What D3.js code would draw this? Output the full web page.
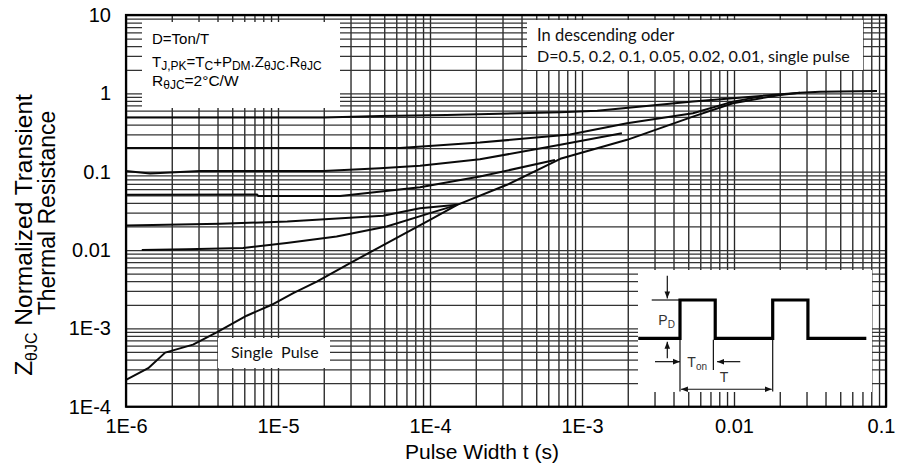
<!DOCTYPE html>
<html>
<head>
<meta charset="utf-8">
<script src="https://cdn.jsdelivr.net/npm/d3@7/dist/d3.min.js"></script>
<style>
  html, body { margin: 0; padding: 0; background: #fff; }
  svg { display: block; }
</style>
</head>
<body>
<svg id="chart" width="899" height="475"></svg>
<script>
// ---------------- DATA ----------------
const xTickValues = [1e-6, 1e-5, 1e-4, 1e-3, 1e-2, 1e-1];
const xTickLabels = ["1E-6", "1E-5", "1E-4", "1E-3", "0.01", "0.1"];
const yTickValues = [1e-4, 1e-3, 1e-2, 1e-1, 1, 10];
const yTickLabels = ["1E-4", "1E-3", "0.01", "0.1", "1", "10"];

// D = 0.5
const tD05 = [1e-6, 2e-5, 4.7e-5, 1.29e-4, 7.2e-4, 1.26e-3, 5.37e-3, 9.84e-3, 2.72e-2, 3.68e-2, 8.73e-2];
const zD05 = [0.49, 0.49, 0.515, 0.53, 0.574, 0.60, 0.784, 0.866, 1.02, 1.05, 1.07];
// D = 0.2
const tD02 = [1e-6, 6.35e-5, 2.13e-4, 8.34e-4, 1.98e-3, 5.37e-3, 9.84e-3, 1.48e-2];
const zD02 = [0.2, 0.2, 0.235, 0.299, 0.416, 0.557, 0.784, 0.908];
// D = 0.1
const tD01 = [1e-6, 1.44e-6, 3.07e-6, 2e-5, 4.69e-5, 8.6e-5, 2.13e-4, 7.2e-4, 1.83e-3];
const zD01 = [0.102, 0.095, 0.102, 0.102, 0.111, 0.119, 0.144, 0.22, 0.31];
// D = 0.05
const tD005 = [1e-6, 7.27e-6, 7.4e-6, 2.56e-5, 8.6e-5, 2.13e-4, 6.64e-4];
const zD005 = [0.0506, 0.0513, 0.049, 0.049, 0.0634, 0.0866, 0.141];
// D = 0.02
const tD002 = [1e-6, 4.15e-6, 1.15e-5, 4.91e-5, 8.6e-5, 1.51e-4];
const zD002 = [0.0205, 0.0216, 0.0231, 0.0273, 0.0342, 0.0377];
// D = 0.01
const tD001 = [1.27e-6, 2.51e-6, 5.89e-6, 1.14e-5, 2.43e-5, 5.19e-5, 1e-4, 1.51e-4];
const zD001 = [0.01, 0.0102, 0.0106, 0.0123, 0.0149, 0.020, 0.0296, 0.0377];
// Single pulse
const tSingle = [1e-6, 1.4e-6, 1.81e-6, 2.76e-6, 3.95e-6, 6.22e-6, 9.09e-6, 1.26e-5, 1.8e-5, 2.98e-5,
                 5.71e-5, 1e-4, 1.51e-4, 3.21e-4, 7.2e-4, 1.98e-3, 5.37e-3, 9.84e-3, 2.01e-2, 2.72e-2];
const zSingle = [2.2e-4, 3.1e-4, 4.9e-4, 6.2e-4, 8.9e-4, 1.45e-3, 2.0e-3, 2.82e-3, 3.96e-3, 6.8e-3,
                 1.35e-2, 2.43e-2, 3.77e-2, 6.8e-2, 0.146, 0.255, 0.505, 0.748, 0.955, 1.02];

const seriesT = [tD05, tD02, tD01, tD005, tD002, tD001, tSingle];
const seriesZ = [zD05, zD02, zD01, zD005, zD002, zD001, zSingle];

// Inset pulse diagram, in units of the period T (x) and pulse height PD (y)
const pulseX = [-0.45, 0, 0, 0.38, 0.38, 1, 1, 1.38, 1.38, 2.01];
const pulseY = [0, 0, 1, 1, 0, 0, 1, 1, 0, 0];

(function () {
// ---------------- CHART ----------------
const svg = d3.select("#chart");
const pL = 126, pR = 886, pT = 15, pB = 406.7;

const x = d3.scaleLog().domain([1e-6, 0.1]).range([pL, pR]);
const y = d3.scaleLog().domain([1e-4, 10]).range([pB, pT]);

// minor/major log grid values
const xGrid = [];
for (let e = -6; e <= -2; e++) for (let k = 1; k <= 9; k++) xGrid.push(k * Math.pow(10, e));
xGrid.push(0.1);
const yGrid = [];
for (let e = -4; e <= 0; e++) for (let k = 1; k <= 9; k++) yGrid.push(k * Math.pow(10, e));
yGrid.push(10);

const gx = svg.append("g")
  .attr("transform", `translate(0,${pB})`)
  .call(d3.axisBottom(x).tickValues(xGrid).tickSize(-(pB - pT)).tickFormat(""));
gx.select(".domain").remove();
gx.selectAll("line").attr("stroke", "#262626").attr("stroke-width", 1.35);

const gy = svg.append("g")
  .attr("transform", `translate(${pL},0)`)
  .call(d3.axisLeft(y).tickValues(yGrid).tickSize(-(pR - pL)).tickFormat(""));
gy.select(".domain").remove();
gy.selectAll("line").attr("stroke", "#333").attr("stroke-width", 1.25);

// white annotation boxes covering the grid
const boxes = [
  [142, 22, 198, 86],
  [527, 20, 336, 50],
  [218, 338, 112, 30],
  [638, 270, 234, 122]
];
svg.append("g").selectAll("rect").data(boxes).join("rect")
  .attr("x", d => d[0]).attr("y", d => d[1]).attr("width", d => d[2]).attr("height", d => d[3])
  .attr("fill", "#fff");

// curves
const line = d3.line().x(d => x(d[0])).y(d => y(d[1]));
svg.append("g").selectAll("path").data(seriesT.map((t, i) => d3.zip(t, seriesZ[i]))).join("path")
  .attr("d", line)
  .attr("fill", "none")
  .attr("stroke", "#0a0a0a")
  .attr("stroke-width", 2)
  .attr("stroke-linejoin", "round");

// frame
svg.append("rect")
  .attr("x", pL).attr("y", pT).attr("width", pR - pL).attr("height", pB - pT)
  .attr("fill", "none").attr("stroke", "#000").attr("stroke-width", 2.2);

// tick labels
const axFont = "'Liberation Sans', Arial, sans-serif";
const xl = svg.append("g")
  .attr("transform", `translate(0,${pB})`)
  .call(d3.axisBottom(x).tickValues(xTickValues).tickSize(0).tickPadding(12)
    .tickFormat((d, i) => xTickLabels[i]));
xl.select(".domain").remove();
xl.selectAll("text").attr("font-family", axFont).attr("font-size", 20).attr("fill", "#000")
  .attr("dx", (d, i) => i === xTickValues.length - 1 ? -5 : 0);

const yl = svg.append("g")
  .attr("transform", `translate(${pL},0)`)
  .call(d3.axisLeft(y).tickValues(yTickValues).tickSize(0).tickPadding(15)
    .tickFormat((d, i) => yTickLabels[i]));
yl.select(".domain").remove();
yl.selectAll("text").attr("font-family", axFont).attr("font-size", 20).attr("fill", "#000");

// axis titles
svg.append("text")
  .attr("x", 482).attr("y", 459)
  .attr("text-anchor", "middle")
  .attr("font-family", axFont).attr("font-size", 21).attr("fill", "#000")
  .text("Pulse Width t (s)");

// text with subscripts: parts = [[string, isSub], ...]
function richText(sel, parts, subSize, shift) {
  let inSub = false;
  parts.forEach(p => {
    const ts = sel.append("tspan").text(p[0]);
    if (p[1]) {
      ts.attr("font-size", subSize).attr("dy", inSub ? 0 : shift);
      inSub = true;
    } else {
      ts.attr("dy", inSub ? -shift : 0);
      inSub = false;
    }
  });
}

const yt1 = svg.append("text")
  .attr("transform", "translate(32,235) rotate(-90)")
  .attr("text-anchor", "middle")
  .attr("font-family", axFont).attr("font-size", 24.5).attr("fill", "#000");
richText(yt1, [["Z", false], ["θJC", true], [" Normalized Transient", false]], 16, 5);

svg.append("text")
  .attr("transform", "translate(55,213) rotate(-90)")
  .attr("text-anchor", "middle")
  .attr("font-family", axFont).attr("font-size", 23).attr("fill", "#000")
  .text("Thermal Resistance");

// top-left annotation
const tl = svg.append("g").attr("font-family", axFont).attr("fill", "#000");
tl.append("text").attr("x", 152).attr("y", 44).attr("font-size", 15).text("D=Ton/T");
const tl2 = tl.append("text").attr("x", 152).attr("y", 67).attr("font-size", 15);
richText(tl2, [["T", false], ["J,PK", true], ["=T", false], ["C", true], ["+P", false], ["DM", true],
               [".Z", false], ["θJC", true], [".R", false], ["θJC", true]], 12, 3);
const tl3 = tl.append("text").attr("x", 152).attr("y", 86).attr("font-size", 15.5);
richText(tl3, [["R", false], ["θJC", true], ["=2°C/W", false]], 12, 3);

// top-right annotation
const noteFont = "Lato, 'Open Sans', sans-serif";
svg.append("text").attr("x", 537).attr("y", 41).attr("font-family", noteFont).attr("font-size", 16.5)
  .attr("fill", "#111").text("In descending oder");
svg.append("text").attr("x", 537).attr("y", 62).attr("font-family", noteFont).attr("font-size", 16.1)
  .attr("fill", "#111").text("D=0.5, 0.2, 0.1, 0.05, 0.02, 0.01, single pulse");

svg.append("text").attr("x", 231).attr("y", 358).attr("font-family", noteFont).attr("font-size", 16)
  .attr("fill", "#111").style("white-space", "pre").text("Single  Pulse");

// ---------------- INSET pulse diagram ----------------
const ix = d3.scaleLinear().domain([0, 1]).range([680, 772.7]);
const iy = d3.scaleLinear().domain([0, 1]).range([338.3, 300]);

const defs = svg.append("defs");
defs.append("marker").attr("id", "ah").attr("viewBox", "0 0 10 10")
  .attr("refX", 10).attr("refY", 5).attr("markerWidth", 7).attr("markerHeight", 7)
  .attr("markerUnits", "userSpaceOnUse").attr("orient", "auto-start-reverse")
  .append("path").attr("d", "M0,1 L10,5 L0,9 Z").attr("fill", "#111");

const inset = svg.append("g");
const thin = (x1, y1, x2, y2) => inset.append("line")
  .attr("x1", ix(x1)).attr("y1", iy(y1)).attr("x2", ix(x2)).attr("y2", iy(y2))
  .attr("stroke", "#111").attr("stroke-width", 1.2);

thin(-0.305, 1, 0, 1);
thin(0, 0, 0, -1.39);
thin(0.36, -0.04, 0.36, -0.83);
thin(1, 0, 1, -1.39);
thin(-0.137, 1.63, -0.137, 1.04).attr("marker-end", "url(#ah)");
thin(-0.137, -0.52, -0.137, -0.09).attr("marker-end", "url(#ah)");
thin(-0.27, -0.61, 0, -0.61).attr("marker-end", "url(#ah)");
thin(0.65, -0.61, 0.4, -0.61).attr("marker-end", "url(#ah)");
thin(0.01, -1.33, 0.99, -1.33).attr("marker-start", "url(#ah)").attr("marker-end", "url(#ah)");

inset.append("path")
  .attr("d", d3.line().x(d => ix(d[0])).y(d => iy(d[1]))(d3.zip(pulseX, pulseY)))
  .attr("fill", "none").attr("stroke", "#000").attr("stroke-width", 3.2);

const il1 = inset.append("text").attr("x", ix(-0.234)).attr("y", iy(0.347))
  .attr("font-family", axFont).attr("font-size", 14).attr("fill", "#333");
richText(il1, [["P", false], ["D", true]], 10, 3);
const il2 = inset.append("text").attr("x", ix(0.079)).attr("y", iy(-0.76))
  .attr("font-family", axFont).attr("font-size", 14).attr("fill", "#333");
richText(il2, [["T", false], ["on", true]], 10, 3);
inset.append("text").attr("x", ix(0.43)).attr("y", iy(-1.13))
  .attr("font-family", axFont).attr("font-size", 14).attr("fill", "#333").text("T");
})();
</script>
</body>
</html>
